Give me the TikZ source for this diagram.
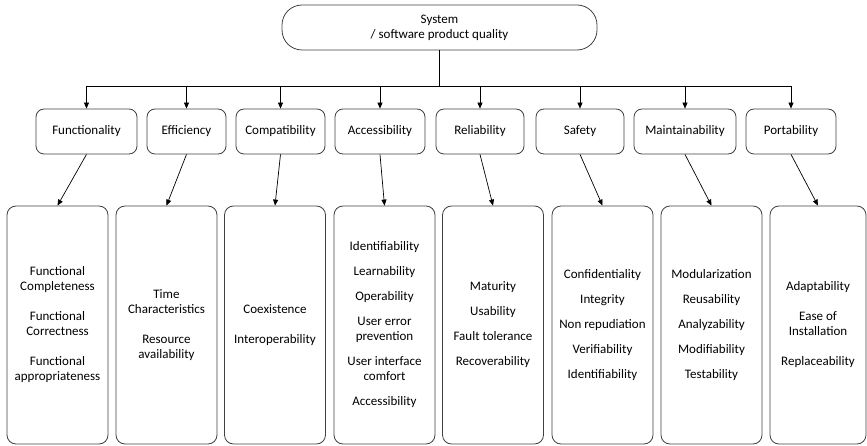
\documentclass[tikz,border=0pt]{standalone}
\usepackage{fontspec}
\setmainfont{Carlito}
\usetikzlibrary{arrows.meta,calc}
\begin{document}
\begin{tikzpicture}[x=1pt,y=-1pt,
  every node/.style={font=\fontsize{13}{15}\selectfont, inner sep=0pt, align=center},
  topbox/.style={draw=black!75, line width=0.8pt, rounded corners=20pt,
    minimum width=315pt, minimum height=45pt},
  charbox/.style={draw=black!75, line width=0.8pt, rounded corners=8pt,
    minimum height=45pt},
  subbox/.style={draw=black!75, line width=0.8pt, rounded corners=9pt,
    minimum width=101pt, minimum height=238pt},
  link/.style={draw=black, line width=0.7pt},
  arr/.style={link, -{Triangle[length=6pt,width=5pt]}}
]
\useasboundingbox (0,0) rectangle (867,446);

% root
\node[topbox] (root) at (439.5,27.5) {System\\/ software product quality};

% quality characteristics
\node[charbox, minimum width=101pt] (fun) at (86.5,131.5) {Functionality};
\node[charbox, minimum width=79pt]  (eff) at (186.5,131.5) {Efficiency};
\node[charbox, minimum width=89pt]  (com) at (280.5,131.5) {Compatibility};
\node[charbox, minimum width=90pt]  (acc) at (380,131.5) {Accessibility};
\node[charbox, minimum width=88pt]  (rel) at (480,131.5) {Reliability};
\node[charbox, minimum width=88pt]  (saf) at (580,131.5) {Safety};
\node[charbox, minimum width=102pt] (mai) at (685,131.5) {Maintainability};
\node[charbox, minimum width=90pt]  (por) at (791,131.5) {Portability};

% sub-characteristics
\node[subbox] (funS) at (57.5,325) {Functional\\Completeness\\[15pt]Functional\\Correctness\\[15pt]Functional\\appropriateness};
\node[subbox] (effS) at (166.5,325) {Time\\Characteristics\\[15pt]Resource\\availability};
\node[subbox] (comS) at (275,325) {Coexistence\\[15pt]Interoperability};
\node[subbox] (accS) at (384.5,325) {Identifiability\\[10pt]Learnability\\[10pt]Operability\\[10pt]User error\\prevention\\[10pt]User interface\\comfort\\[10pt]Accessibility};
\node[subbox] (relS) at (493,325) {Maturity\\[10pt]Usability\\[10pt]Fault tolerance\\[10pt]Recoverability};
\node[subbox] (safS) at (602.5,325) {Confidentiality\\[10pt]Integrity\\[10pt]Non repudiation\\[10pt]Verifiability\\[10pt]Identifiability};
\node[subbox] (maiS) at (711.5,325) {Modularization\\[10pt]Reusability\\[10pt]Analyzability\\[10pt]Modifiability\\[10pt]Testability};
\node[subbox, minimum width=96pt] (porS) at (818,325) {Adaptability\\[15pt]Ease of\\Installation\\[15pt]Replaceability};

% bus from the root to every characteristic
\coordinate (bus) at ($(root.south)+(0,36)$);
\draw[link] (root.south) -- (bus);
\draw[link] (bus -| fun.north) -- (bus -| por.north);
\foreach \n in {fun,eff,com,acc,rel,saf,mai,por}
  \draw[arr] (bus -| \n.north) -- (\n.north);

% characteristic to its sub-characteristics
\foreach \n in {fun,eff,com,acc,rel,saf,mai,por}
  \draw[arr] (\n.south) -- (\n S.north);
\end{tikzpicture}
\end{document}
